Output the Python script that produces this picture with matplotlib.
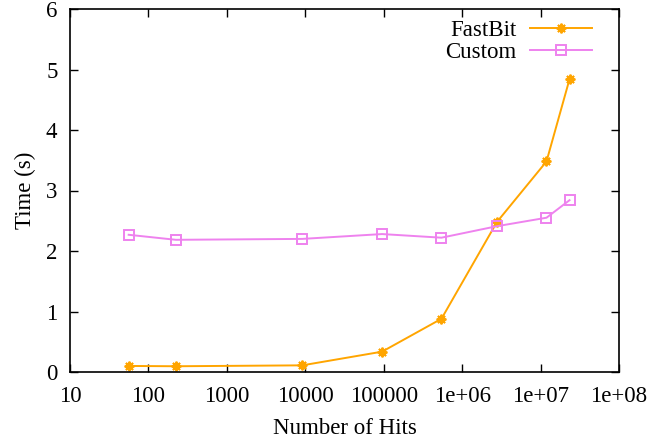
import matplotlib
matplotlib.use("Agg")
from matplotlib import pyplot as plt
from matplotlib.ticker import FixedLocator, LogLocator, NullFormatter

# Datos
hits = [56, 224, 9150, 95300, 545000, 2.78e6, 1.19e7, 2.34e7]
fastbit = [0.10, 0.095, 0.11, 0.336, 0.88, 2.48, 3.48, 4.84]
custom = [2.268, 2.185, 2.20, 2.28, 2.22, 2.41, 2.55, 2.84]

xtick_vals = [10, 100, 1000, 10000, 100000, 1e6, 1e7, 1e8]
xtick_labels = ["10", "100", "1000", "10000", "100000", "1e+06", "1e+07", "1e+08"]
ytick_vals = [0, 1, 2, 3, 4, 5, 6]

plt.rcParams["font.family"] = ["Liberation Serif", "DejaVu Serif"]
plt.rcParams["font.size"] = 16.5

fig = plt.figure(figsize=(6.7, 4.45), dpi=100)
ax = fig.add_axes([70 / 670, 1 - 372 / 445, 549 / 670, 363 / 445])

ax.plot(hits, fastbit, color="#FFA500", linewidth=1.4,
        marker=(8, 2, 0), markersize=7, markeredgewidth=1.4, label="FastBit")
ax.plot(hits, custom, color="#EE82EE", linewidth=1.4,
        marker="s", markersize=7, markerfacecolor="none",
        markeredgewidth=1.4, label="Custom")

ax.set_xscale("log")
ax.set_xlim(10, 1e8)
ax.set_ylim(0, 6)
ax.xaxis.set_major_locator(FixedLocator(xtick_vals))
ax.set_xticklabels(xtick_labels)
ax.xaxis.set_minor_locator(LogLocator(base=10, subs=[2, 5, 8]))
ax.xaxis.set_minor_formatter(NullFormatter())
ax.set_yticks(ytick_vals)

ax.tick_params(which="both", direction="in", top=True, right=True, width=1.0)
ax.tick_params(which="major", length=6)
ax.tick_params(axis="x", which="major", pad=10)
ax.tick_params(axis="y", which="major", pad=9)
ax.tick_params(which="minor", length=3)
for s in ax.spines.values():
    s.set_linewidth(1.2)

ax.set_xlabel("Number of Hits", labelpad=8)
ax.set_ylabel("Time (s)", labelpad=7)

ax.legend(loc="upper right", bbox_to_anchor=(0.963, 0.99), frameon=False,
          markerfirst=False, handlelength=2.7, handletextpad=0.6,
          labelspacing=0.05, borderaxespad=0, borderpad=0.3)

fig.savefig("out.png", dpi=100)
